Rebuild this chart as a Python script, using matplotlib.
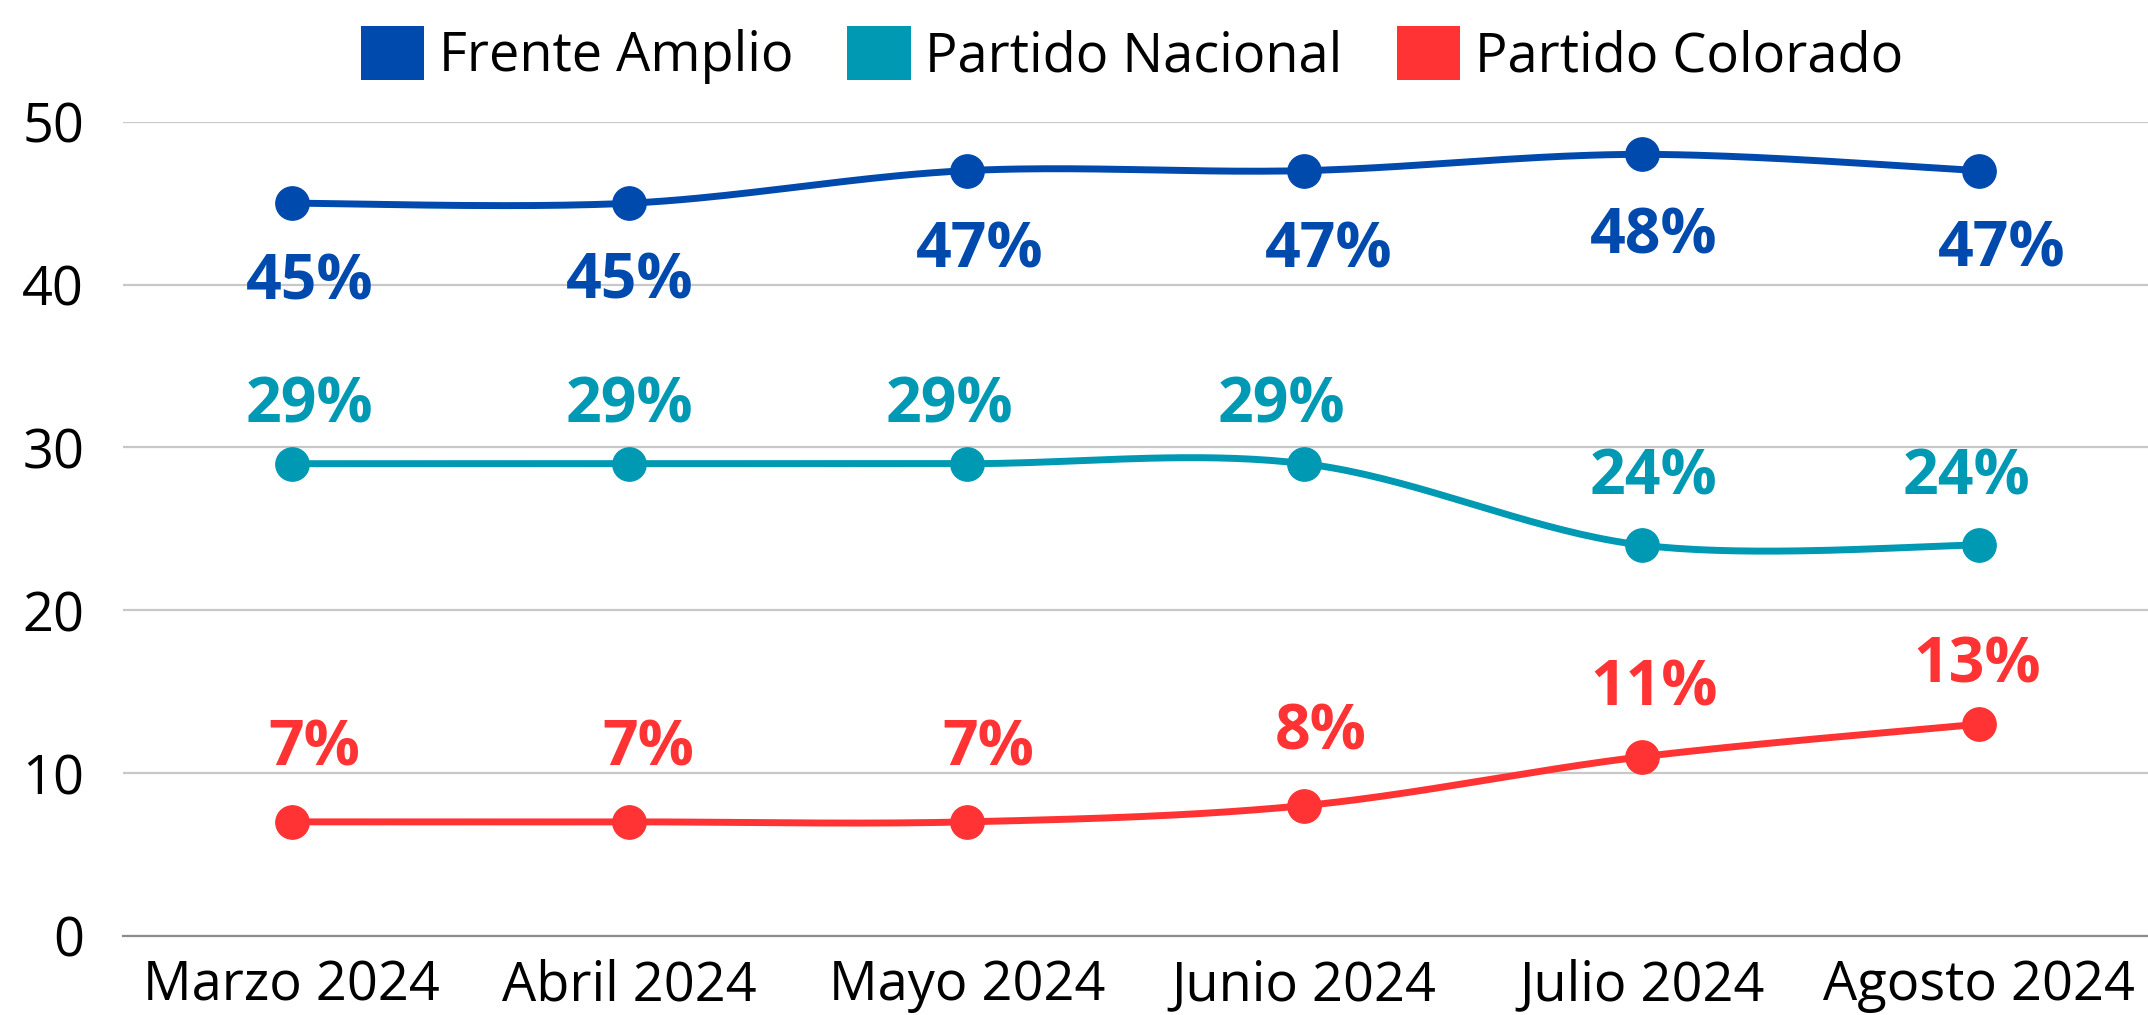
import numpy as np
import matplotlib
matplotlib.use("Agg")
import matplotlib.pyplot as plt
from matplotlib.patches import Patch

months = ["Marzo 2024", "Abril 2024", "Mayo 2024", "Junio 2024", "Julio 2024", "Agosto 2024"]
frente_amplio = [45, 45, 47, 47, 48, 47]
partido_nacional = [29, 29, 29, 29, 24, 24]
partido_colorado = [7, 7, 7, 8, 11, 13]
series_names = ["Frente Amplio", "Partido Nacional", "Partido Colorado"]
colors = ["#004AAD", "#0099B4", "#FF3333"]
yticks = [0, 10, 20, 30, 40, 50]

# label placement (pixel offsets of label centre from the marker)
label_dx = [[18, 0, 13, 24, 12, 22],
            [18, 0, -17, -23, 12, -13],
            [22, 19, 22, 16, 12, -2]]
label_dy = [[-74, -73, -75, -75, -77, -74],
            [64, 64, 64, 64, 73, 73],
            [79, 79, 79, 78, 74, 64]]

plt.rcParams['font.family'] = ['Open Sans', 'DejaVu Sans']

def smooth(xs, ys, n=40):
    xs = np.asarray(xs, float); ys = np.asarray(ys, float)
    P = np.column_stack([xs, ys])
    out = [P[0]]
    for i in range(len(P) - 1):
        p0 = P[i - 1] if i > 0 else P[i]
        p1 = P[i]; p2 = P[i + 1]
        p3 = P[i + 2] if i + 2 < len(P) else P[i + 1]
        c1 = p1 + (p2 - p0) / 6.0
        c2 = p2 - (p3 - p1) / 6.0
        t = np.linspace(0, 1, n)[1:, None]
        b = (1 - t) ** 3 * p1 + 3 * (1 - t) ** 2 * t * c1 + 3 * (1 - t) * t ** 2 * c2 + t ** 3 * p2
        out.extend(b)
    out = np.array(out)
    return out[:, 0], out[:, 1]

fig = plt.figure(figsize=(21.48, 10.15), dpi=100)
ax = fig.add_axes([0.0573, 0.078, 0.9427, 0.802])

x = np.arange(len(months))
data = [frente_amplio, partido_nacional, partido_colorado]
fs = 45
for k, (vals, c, name) in enumerate(zip(data, colors, series_names)):
    sx, sy = smooth(x, vals)
    ax.plot(sx, sy, color=c, lw=5, solid_capstyle='round', zorder=3)
    ax.plot(x, vals, 'o', color=c, ms=24, zorder=4)
    for j, (xi, v) in enumerate(zip(x, vals)):
        dx_pt = label_dx[k][j] * 0.72
        dy_pt = label_dy[k][j] * 0.72 - 0.357 * fs
        ax.annotate(f"{v}%", (xi, v), xytext=(dx_pt, dy_pt), textcoords='offset points',
                    ha='center', va='baseline', fontsize=fs, fontweight='bold', color=c, zorder=5)

ax.set_xlim(-0.5, 5.5)
ax.set_ylim(0, 50)
ax.set_yticks(yticks)
ax.set_xticks(x)
ax.set_xticklabels(months)
ax.tick_params(axis='both', length=0, labelsize=39, colors='black')
ax.tick_params(axis='x', pad=16)
ax.tick_params(axis='y', pad=28)
ax.grid(axis='y', color='#C8C8C8', lw=1.6)
ax.set_axisbelow(True)
for s in ['top', 'right', 'left']:
    ax.spines[s].set_visible(False)
ax.spines['bottom'].set_color('#8C8C8C')
ax.spines['bottom'].set_linewidth(1.6)
ax.spines['bottom'].set_zorder(1)

handles = [Patch(facecolor=c, edgecolor='none') for c in colors]
fig.legend(handles, series_names, loc='upper center', bbox_to_anchor=(0.527, 1.012), ncol=3,
           frameon=False, fontsize=39, handlelength=1.17, handleheight=1.17,
           handletextpad=0.27, columnspacing=1.0, borderpad=0.2)

fig.savefig("out.png", dpi=100)
